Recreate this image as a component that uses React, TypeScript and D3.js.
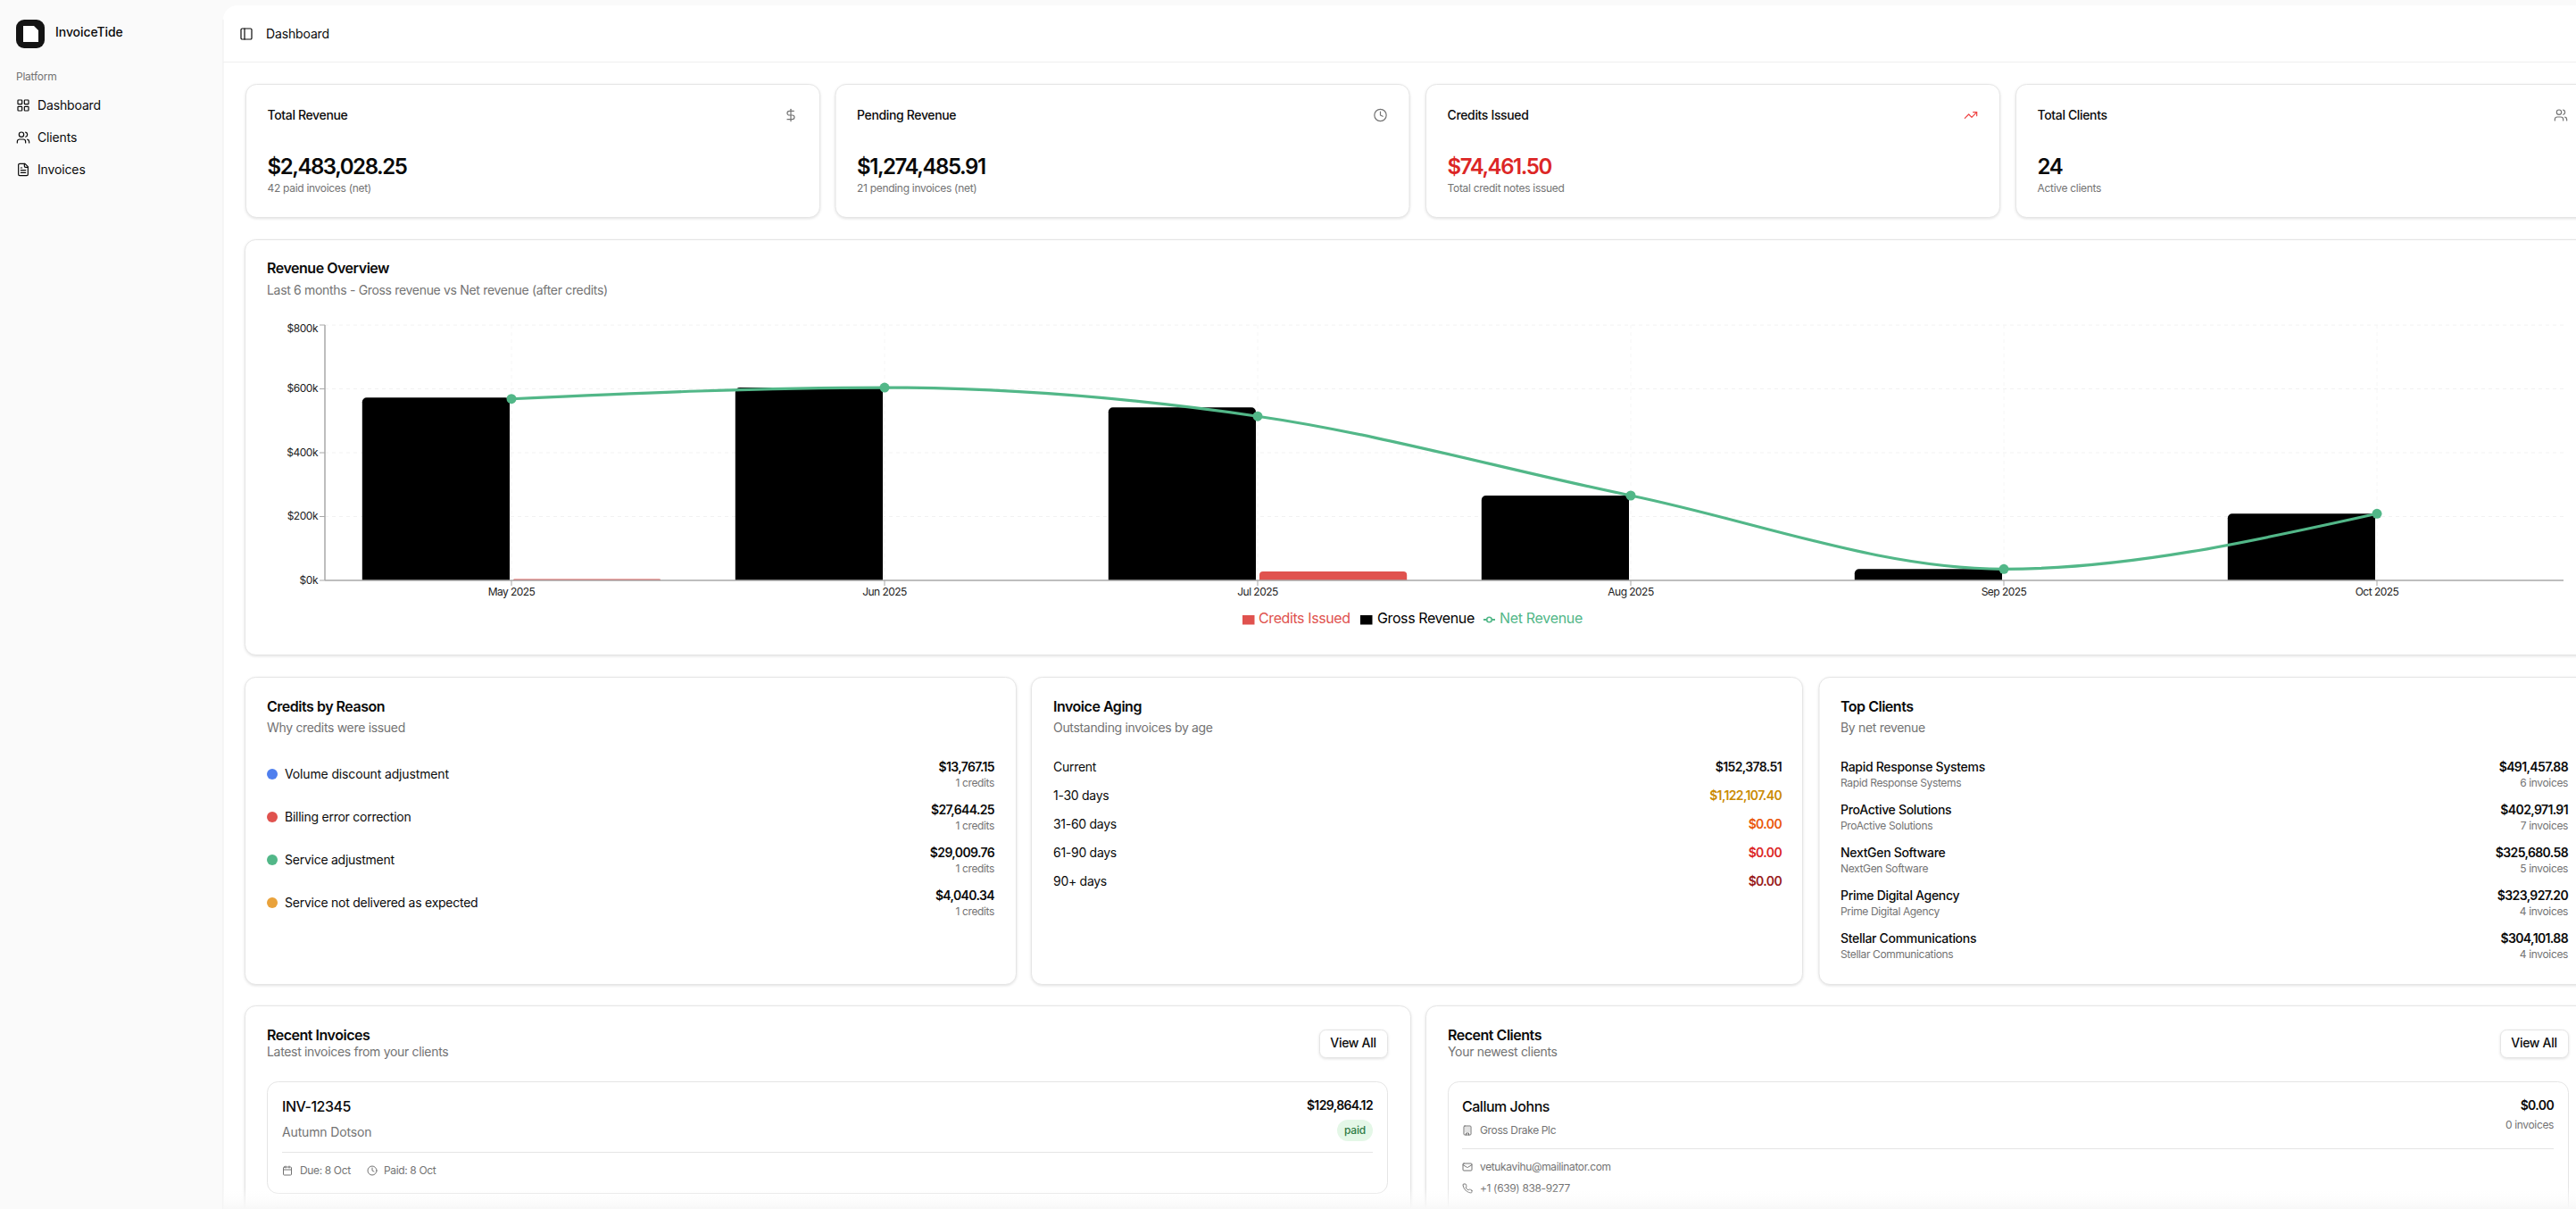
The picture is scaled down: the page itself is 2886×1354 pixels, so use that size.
import React, { useEffect } from "react";
import * as d3 from "d3";

const months = ["May 2025", "Jun 2025", "Jul 2025", "Aug 2025", "Sep 2025", "Oct 2025"];
const grossRevenue = [572600, 604000, 541700, 265700, 35500, 209000];
const netRevenue = [568600, 604000, 514100, 265700, 35500, 209000];
const creditsIssued = [4040, 0, 27644, 0, 0, 0];
const yTicks = [0, 200000, 400000, 600000, 800000];

const statTitles = ["Total Revenue", "Pending Revenue", "Credits Issued", "Total Clients"];
const statValues = ["$2,483,028.25", "$1,274,485.91", "$74,461.50", "24"];
const statNotes = ["42 paid invoices (net)", "21 pending invoices (net)", "Total credit notes issued", "Active clients"];

const reasonLabels = ["Volume discount adjustment", "Billing error correction", "Service adjustment", "Service not delivered as expected"];
const reasonAmounts = ["$13,767.15", "$27,644.25", "$29,009.76", "$4,040.34"];
const reasonColors = ["#4f7fee", "#e0524e", "#52b788", "#e9a23b"];

const agingLabels = ["Current", "1-30 days", "31-60 days", "61-90 days", "90+ days"];
const agingAmounts = ["$152,378.51", "$1,122,107.40", "$0.00", "$0.00", "$0.00"];
const agingColors = ["#111111", "#ca8a04", "#ea580c", "#dc2626", "#991b1b"];

const clientNames = ["Rapid Response Systems", "ProActive Solutions", "NextGen Software", "Prime Digital Agency", "Stellar Communications"];
const clientAmounts = ["$491,457.88", "$402,971.91", "$325,680.58", "$323,927.20", "$304,101.88"];
const clientCounts = ["6 invoices", "7 invoices", "5 invoices", "4 invoices", "4 invoices"];

const INK = "#0a0a0a";
const MUTED = "#737373";
const BORDER = "#e5e5e5";
const RED = "#e0524e";
const GREEN = "#52b788";
const FONT = "Inter, 'Noto Sans', sans-serif";

function T({ x, y, s = 14, w = 400, c = INK, a = "start", ls = -0.02, children }: any) {
  return (
    <text x={x} y={y - 0.6} fontSize={s} fontWeight={w} fill={c} textAnchor={a} dominantBaseline="central" letterSpacing={`${ls}em`} fontFamily={FONT}>
      {children}
    </text>
  );
}

function Card({ x, y, w, h, r = 12, shadow = true }: any) {
  return (
    <rect x={x + 0.5} y={y + 0.5} width={w} height={h} rx={r} fill="#fff" stroke={BORDER} strokeWidth={1}
      style={shadow ? { filter: "drop-shadow(0 1px 1.5px rgba(0,0,0,0.12))" } : undefined} />
  );
}

function Icon({ x, y, size = 16, c = "#0a0a0a", sw = 2, children }: any) {
  return (
    <g transform={`translate(${x},${y}) scale(${size / 24})`} fill="none" stroke={c} strokeWidth={sw} strokeLinecap="round" strokeLinejoin="round">
      {children}
    </g>
  );
}

const Dollar = () => (<><line x1={12} y1={2} x2={12} y2={22} /><path d="M17 5H9.5a3.5 3.5 0 0 0 0 7h5a3.5 3.5 0 0 1 0 7H6" /></>);
const Clock = () => (<><circle cx={12} cy={12} r={10} /><polyline points="12 6 12 12 16 14" /></>);
const Trend = () => (<><polyline points="22 7 13.5 15.5 8.5 10.5 2 17" /><polyline points="16 7 22 7 22 13" /></>);
const Users = () => (<><path d="M16 21v-2a4 4 0 0 0-4-4H6a4 4 0 0 0-4 4v2" /><circle cx={9} cy={7} r={4} /><path d="M22 21v-2a4 4 0 0 0-3-3.87" /><path d="M16 3.13a4 4 0 0 1 0 7.75" /></>);
const Grid = () => (<><rect x={3} y={3} width={7} height={7} rx={1} /><rect x={14} y={3} width={7} height={7} rx={1} /><rect x={14} y={14} width={7} height={7} rx={1} /><rect x={3} y={14} width={7} height={7} rx={1} /></>);
const FileText = () => (<><path d="M15 2H6a2 2 0 0 0-2 2v16a2 2 0 0 0 2 2h12a2 2 0 0 0 2-2V7Z" /><path d="M14 2v4a2 2 0 0 0 2 2h4" /><path d="M10 9H8" /><path d="M16 13H8" /><path d="M16 17H8" /></>);
const Panel = () => (<><rect x={3} y={3} width={18} height={18} rx={2} /><path d="M9 3v18" /></>);
const Calendar = () => (<><rect x={3} y={4} width={18} height={18} rx={2} /><path d="M16 2v4M8 2v4M3 10h18" /></>);
const Mail = () => (<><rect x={2} y={4} width={20} height={16} rx={2} /><path d="m22 7-8.97 5.7a1.94 1.94 0 0 1-2.06 0L2 7" /></>);
const Phone = () => (<path d="M22 16.92v3a2 2 0 0 1-2.18 2 19.79 19.79 0 0 1-8.63-3.07 19.5 19.5 0 0 1-6-6 19.79 19.79 0 0 1-3.07-8.67A2 2 0 0 1 4.11 2h3a2 2 0 0 1 2 1.72 12.84 12.84 0 0 0 .7 2.81 2 2 0 0 1-.45 2.11L8.09 9.91a16 16 0 0 0 6 6l1.27-1.27a2 2 0 0 1 2.11-.45 12.84 12.84 0 0 0 2.81.7A2 2 0 0 1 22 16.92z" />);
const Building = () => (<><rect x={4} y={2} width={16} height={20} rx={2} /><path d="M9 22v-4h6v4M8 6h.01M16 6h.01M12 6h.01M12 10h.01M12 14h.01M16 10h.01M16 14h.01M8 10h.01M8 14h.01" /></>);

const topRoundedBar = (x: number, y: number, w: number, h: number, r: number) => {
  const p = d3.path();
  const rr = Math.min(r, h, w / 2);
  p.moveTo(x, y + h);
  p.lineTo(x, y + rr);
  p.arcTo(x, y, x + rr, y, rr);
  p.lineTo(x + w - rr, y);
  p.arcTo(x + w, y, x + w, y + rr, rr);
  p.lineTo(x + w, y + h);
  p.closePath();
  return p.toString();
};

function RevenueChart() {
  const left = 364, right = 2872, top = 364, bottom = 650;
  const x = d3.scaleBand<string>().domain(months).range([left, right]);
  const y = d3.scaleLinear().domain([0, 800000]).range([bottom, top]);
  const offset = x.bandwidth() * 0.1;
  const center = (m: string) => (x(m) as number) + x.bandwidth() / 2;
  const line = d3.line<number>().x((_, i) => center(months[i])).y((d) => y(d)).curve(d3.curveMonotoneX);
  const yFmt = (v: number) => `$${d3.format("d")(v / 1000)}k`;
  const barW = (x.bandwidth() * 0.8 - 4) / 2;

  return (
    <g>
      {yTicks.filter((t) => t > 0).map((t) => (
        <line key={t} x1={left} x2={right} y1={y(t)} y2={y(t)} stroke="#f2f2f2" strokeDasharray="4 4" />
      ))}
      {months.map((m) => (
        <line key={m} x1={center(m)} x2={center(m)} y1={top} y2={bottom} stroke="#f6f6f6" strokeDasharray="4 4" />
      ))}
      {months.map((m, i) => {
        const gx = (x(m) as number) + offset;
        const cx = gx + barW + 4;
        return (
          <g key={m}>
            {grossRevenue[i] > 0 && <path d={topRoundedBar(gx, y(grossRevenue[i]), barW, bottom - y(grossRevenue[i]), 5)} fill="#000" />}
            {creditsIssued[i] > 0 && <path d={topRoundedBar(cx, y(creditsIssued[i]), barW, bottom - y(creditsIssued[i]), 4)} fill={RED} />}
          </g>
        );
      })}
      <line x1={left} x2={left} y1={top} y2={bottom} stroke="#a8a8a8" strokeWidth={1.5} />
      <line x1={left} x2={right} y1={bottom} y2={bottom} stroke="#a8a8a8" strokeWidth={1.5} />
      {yTicks.map((t) => (
        <g key={t}>
          <line x1={left - 6} x2={left} y1={y(t)} y2={y(t)} stroke="#a8a8a8" />
          <T x={left - 8} y={y(t) + (t === 800000 ? 4 : 0)} s={12} ls={-0.04} a="end" c="#222">{yFmt(t)}</T>
        </g>
      ))}
      {months.map((m) => (
        <g key={m}>
          <line x1={center(m)} x2={center(m)} y1={bottom} y2={bottom + 6} stroke="#a8a8a8" />
          <T x={center(m)} y={663} s={12} ls={-0.045} a="middle" c="#222">{m}</T>
        </g>
      ))}
      <path d={line(netRevenue) as string} fill="none" stroke={GREEN} strokeWidth={3.2} />
      {netRevenue.map((v, i) => (
        <circle key={i} cx={center(months[i])} cy={y(v)} r={5.5} fill={GREEN} />
      ))}
      <g>
        <rect x={1392} y={689} width={13.5} height={10.5} fill={RED} />
        <T x={1410} y={693} s={16} ls={-0.025} c={RED}>Credits Issued</T>
        <rect x={1524} y={689} width={13.5} height={10.5} fill="#000" />
        <T x={1543} y={693} s={16} ls={-0.025} c="#000">Gross Revenue</T>
        <line x1={1662} x2={1675} y1={694} y2={694} stroke={GREEN} strokeWidth={2} />
        <circle cx={1668.5} cy={694} r={2.8} fill="#fff" stroke={GREEN} strokeWidth={1.6} />
        <T x={1680} y={693} s={16} ls={-0.02} c={GREEN}>Net Revenue</T>
      </g>
    </g>
  );
}

function App() {
  useEffect(() => {
    document.body.style.margin = "0";
    document.body.style.overflow = "hidden";
  }, []);
  const statX = [275, 935.5, 1597, 2258];
  const statIcons = [<Dollar />, <Clock />, <Trend />, <Users />];
  return (
    <svg width={2886} height={1354} viewBox="0 0 2886 1354" style={{ display: "block", position: "absolute", left: 0, top: 0 }}>
      <defs>
        <linearGradient id="fade" x1="0" y1="0" x2="0" y2="1">
          <stop offset="0" stopColor="#fff" stopOpacity={0} />
          <stop offset="1" stopColor="#f8f8f8" stopOpacity={1} />
        </linearGradient>
      </defs>
      <rect width={2886} height={1354} fill="#fafafa" />
      <path d="M2886 6H266a16 16 0 0 0-16 16V1354H2886Z" fill="#fff" />
      <path d="M250 22V1354" stroke="#efefef" />
      <line x1={250} x2={2886} y1={69.5} y2={69.5} stroke="#efefef" />

      {/* sidebar */}
      <rect x={18} y={22} width={32} height={32} rx={9} fill="#141414" />
      <path d="M26 29H38L43 34V47H26Z" fill="#fff" strokeLinejoin="round" />
      <T x={62} y={36} s={14} w={500} ls={-0.005}>InvoiceTide</T>
      <T x={18} y={86} s={12} c={MUTED}>Platform</T>
      <Icon x={18} y={110} size={16} sw={1.8}><Grid /></Icon>
      <T x={42} y={118} s={14} ls={-0.01}>Dashboard</T>
      <Icon x={18} y={146} size={16} sw={1.8}><Users /></Icon>
      <T x={42} y={154} s={14} ls={-0.01}>Clients</T>
      <Icon x={18} y={182} size={16} sw={1.8}><FileText /></Icon>
      <T x={42} y={190} s={14} ls={-0.01}>Invoices</T>

      {/* header */}
      <Icon x={268} y={30} size={16} sw={1.8}><Panel /></Icon>
      <T x={298} y={38} s={14} ls={-0.01}>Dashboard</T>

      {/* stat cards */}
      {statTitles.map((t, i) => (
        <g key={t}>
          <Card x={statX[i]} y={94} w={643} h={149} />
          <T x={statX[i] + 24.5} y={129} s={14} w={500} ls={-0.025}>{t}</T>
          <Icon x={statX[i] + 603} y={121} size={16} c={i === 2 ? "#ef4444" : MUTED} sw={1.8}>{statIcons[i]}</Icon>
          <T x={statX[i] + 24.5} y={187} s={24} w={600} ls={-0.06} c={i === 2 ? "#dc2626" : INK}>{statValues[i]}</T>
          <T x={statX[i] + 24.5} y={211} s={12} ls={-0.025} c={MUTED}>{statNotes[i]}</T>
        </g>
      ))}

      {/* revenue card */}
      <Card x={274} y={268} w={2650} h={465} />
      <T x={299} y={301} s={16} w={600} ls={-0.03}>Revenue Overview</T>
      <T x={299} y={325} s={14} ls={-0.023} c={MUTED}>Last 6 months - Gross revenue vs Net revenue (after credits)</T>
      <RevenueChart />

      {/* credits by reason */}
      <Card x={274} y={758} w={864} h={344} />
      <T x={299} y={792} s={16} w={600} ls={-0.03}>Credits by Reason</T>
      <T x={299} y={815} s={14} ls={-0.023} c={MUTED}>Why credits were issued</T>
      {reasonLabels.map((l, i) => (
        <g key={l}>
          <circle cx={305} cy={867 + i * 48} r={6} fill={reasonColors[i]} />
          <T x={319} y={867 + i * 48} s={14} ls={i === 0 ? -0.01 : -0.018}>{l}</T>
          <T x={1114} y={859 + i * 48} s={14} w={600} ls={-0.045} a="end">{reasonAmounts[i]}</T>
          <T x={1114} y={877 + i * 48} s={12} ls={-0.03} a="end" c={MUTED}>1 credits</T>
        </g>
      ))}

      {/* invoice aging */}
      <Card x={1155} y={758} w={864} h={344} />
      <T x={1180} y={792} s={16} w={600} ls={-0.03}>Invoice Aging</T>
      <T x={1180} y={815} s={14} ls={-0.023} c={MUTED}>Outstanding invoices by age</T>
      {agingLabels.map((l, i) => (
        <g key={l}>
          <T x={1180} y={859 + i * 32} s={14} ls={-0.02}>{l}</T>
          <T x={1996} y={859 + i * 32} s={14} w={600} ls={-0.045} a="end" c={agingColors[i]}>{agingAmounts[i]}</T>
        </g>
      ))}

      {/* top clients */}
      <Card x={2037.5} y={758} w={864} h={344} />
      <T x={2062} y={792} s={16} w={600} ls={-0.03}>Top Clients</T>
      <T x={2062} y={815} s={14} ls={-0.023} c={MUTED}>By net revenue</T>
      {clientNames.map((n, i) => (
        <g key={n}>
          <T x={2062} y={859 + i * 48} s={14} w={500} ls={-0.022}>{n}</T>
          <T x={2062} y={877 + i * 48} s={12} ls={-0.03} c={MUTED}>{n}</T>
          <T x={2877} y={859 + i * 48} s={14} w={600} ls={-0.045} a="end">{clientAmounts[i]}</T>
          <T x={2877} y={877 + i * 48} s={12} ls={-0.03} a="end" c={MUTED}>{clientCounts[i]}</T>
        </g>
      ))}

      {/* recent invoices */}
      <Card x={274} y={1126} w={1306} h={300} />
      <T x={299} y={1160} s={16} w={600} ls={-0.03}>Recent Invoices</T>
      <T x={299} y={1178} s={14} ls={-0.023} c={MUTED}>Latest invoices from your clients</T>
      <Card x={1478} y={1153} w={76} h={31} r={7} />
      <T x={1516} y={1168} s={14} w={500} ls={-0.02} a="middle">View All</T>
      <Card x={299} y={1211} w={1255} h={125} shadow={false} />
      <T x={316} y={1240} s={16} w={500} ls={-0.03}>INV-12345</T>
      <T x={1538} y={1238} s={14} w={600} ls={-0.045} a="end">$129,864.12</T>
      <T x={316} y={1268} s={14} ls={-0.01} c={MUTED}>Autumn Dotson</T>
      <rect x={1498} y={1254} width={40} height={24} rx={12} fill="#e4f7e7" />
      <T x={1518} y={1266} s={12} w={500} c="#2f7a45" a="middle">paid</T>
      <line x1={316} x2={1538} y1={1290.5} y2={1290.5} stroke={BORDER} />
      <Icon x={316} y={1305} size={12} c={MUTED}><Calendar /></Icon>
      <T x={336} y={1311} s={12} ls={-0.03} c={MUTED}>Due: 8 Oct</T>
      <Icon x={411} y={1305} size={12} c={MUTED}><Clock /></Icon>
      <T x={430} y={1311} s={12} ls={-0.03} c={MUTED}>Paid: 8 Oct</T>
      <Card x={299} y={1352} w={1255} h={125} shadow={false} />

      {/* recent clients */}
      <Card x={1597} y={1126} w={1306} h={300} />
      <T x={1622} y={1160} s={16} w={600} ls={-0.03}>Recent Clients</T>
      <T x={1622} y={1178} s={14} ls={-0.023} c={MUTED}>Your newest clients</T>
      <Card x={2801} y={1153} w={76} h={31} r={7} />
      <T x={2839} y={1168} s={14} w={500} ls={-0.02} a="middle">View All</T>
      <Card x={1622} y={1211} w={1255} h={200} shadow={false} />
      <T x={1638} y={1240} s={16} w={500} ls={-0.03}>Callum Johns</T>
      <T x={2861} y={1238} s={14} w={600} ls={-0.045} a="end">$0.00</T>
      <T x={2861} y={1260} s={12} ls={-0.03} a="end" c={MUTED}>0 invoices</T>
      <Icon x={1638} y={1260} size={12} c={MUTED}><Building /></Icon>
      <T x={1658} y={1266} s={12} ls={-0.03} c={MUTED}>Gross Drake Plc</T>
      <line x1={1638} x2={2861} y1={1286.5} y2={1286.5} stroke={BORDER} />
      <Icon x={1638} y={1301} size={12} c={MUTED}><Mail /></Icon>
      <T x={1658} y={1307} s={12} ls={-0.03} c={MUTED}>vetukavihu@mailinator.com</T>
      <Icon x={1638} y={1325} size={12} c={MUTED}><Phone /></Icon>
      <T x={1658} y={1331} s={12} ls={-0.03} c={MUTED}>+1 (639) 838-9277</T>

      <rect x={250} y={1330} width={2636} height={24} fill="url(#fade)" />
    </svg>
  );
}

export default App;
